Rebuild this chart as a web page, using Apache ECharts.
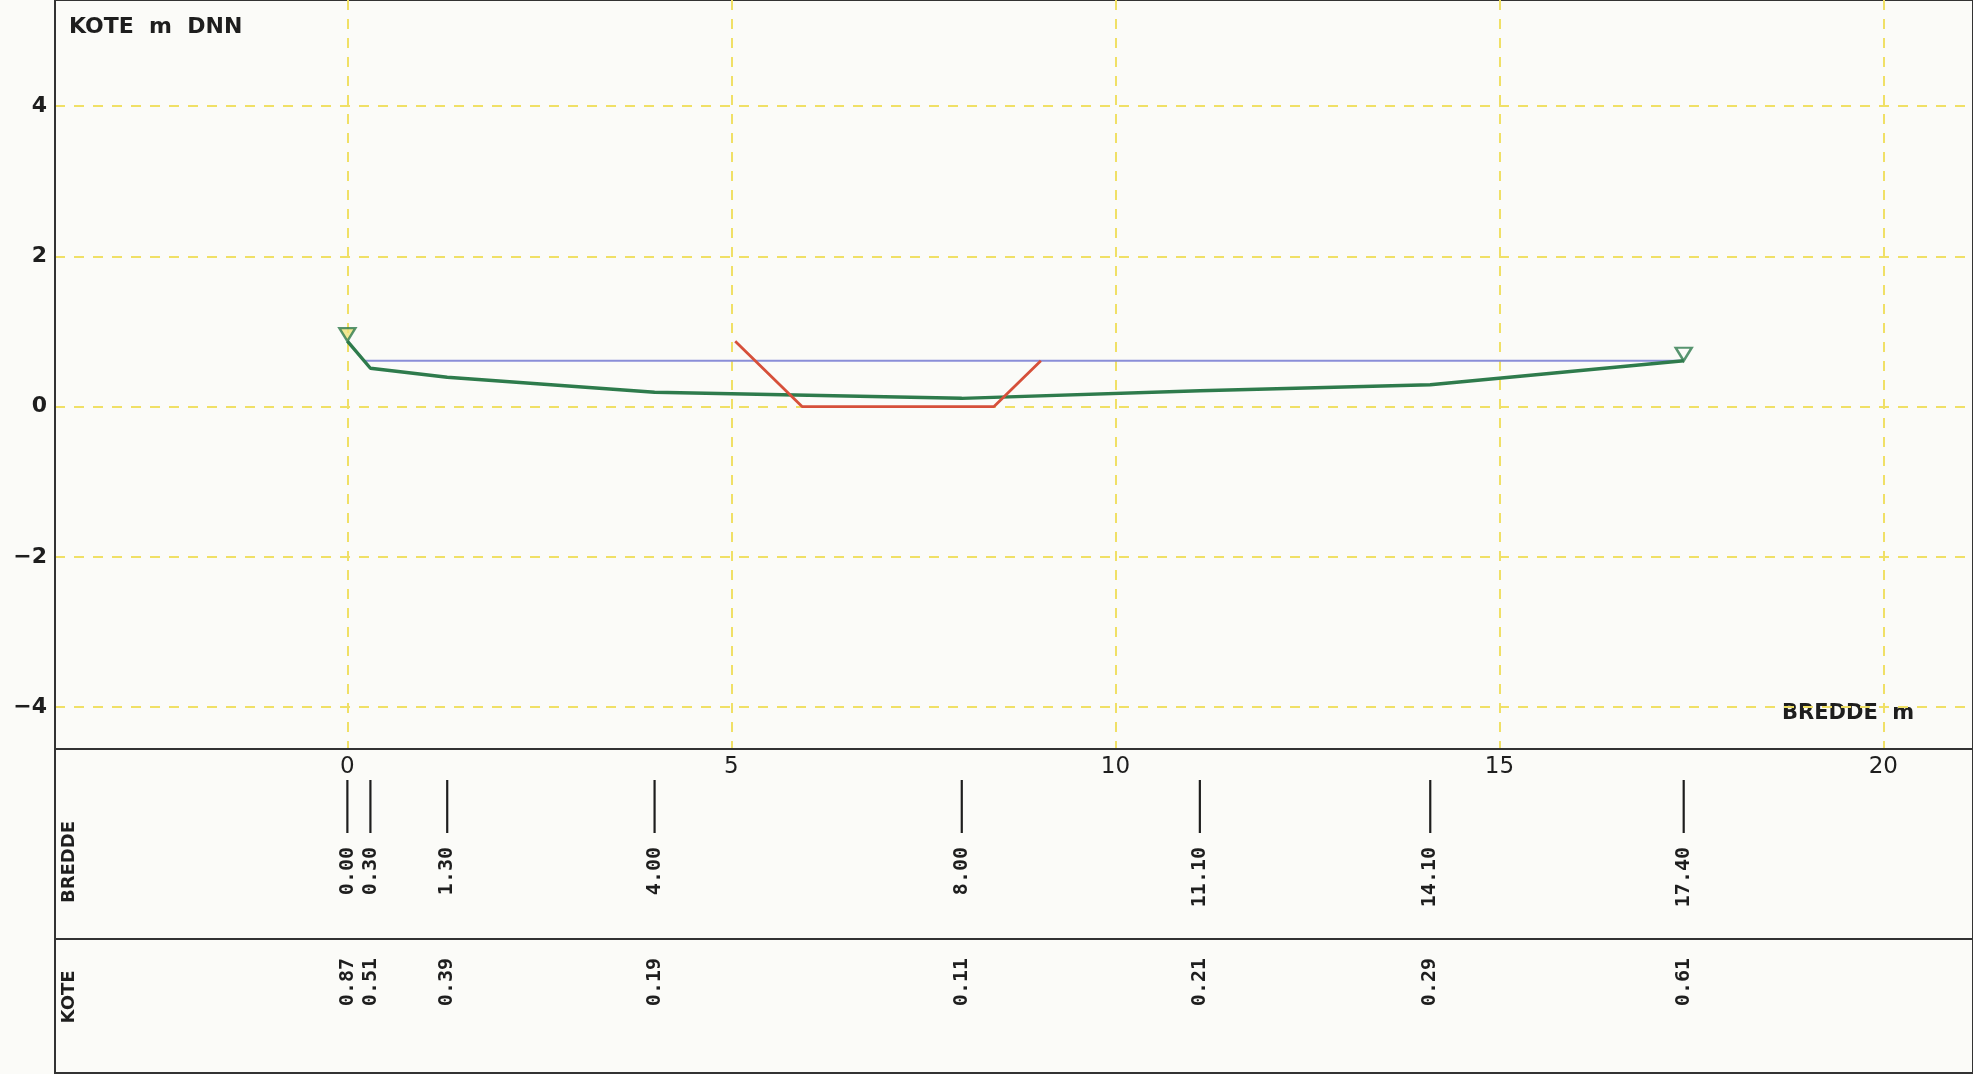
<!DOCTYPE html>
<html>
<head>
<meta charset="utf-8">
<script src="https://cdn.jsdelivr.net/npm/echarts@6/dist/echarts.min.js"></script>
<style>
html,body{margin:0;padding:0;background:#fbfbf8;}
#chart{width:1973px;height:1074px;}
</style>
</head>
<body>
<div id="chart"></div>
<script>
// ---- data ----
const stations   = [0.00, 0.30, 1.30, 4.00, 8.00, 11.10, 14.10, 17.40]; // BREDDE (m)
const elevations = [0.87, 0.51, 0.39, 0.19, 0.11, 0.21, 0.29, 0.61];   // KOTE (m DNN)
const designX = [5.05, 5.92, 8.42, 9.03];   // red design profile
const designY = [0.87, 0.00, 0.00, 0.61];
const waterX = [0.22, 17.40];               // blue water level
const waterY = [0.61, 0.61];
const markerX = [0.00, 17.40];              // water-level triangles
const markerY = [0.87, 0.61];
const xRange = [-3.807, 21.167];
const yRange = [-4.556, 5.41];

const pair = (xs, ys) => xs.map((x, i) => [x, ys[i]]);
const INK = '#1e1e1e';
const GRIDC = '#f0e066';

const chart = echarts.init(document.getElementById('chart'), null, {renderer: 'canvas'});

function rowRenderer(labelOf, withTick, labelTop) {
  return function (params, api) {
    const idx = params.dataIndex;
    const x = api.coord([api.value(0), 0])[0];
    const cs = params.coordSys;
    const children = [];
    if (withTick) {
      children.push({type: 'line', shape: {x1: x, y1: cs.y + 31, x2: x, y2: cs.y + 84},
        style: {stroke: INK, lineWidth: 2.2}});
    }
    children.push({type: 'text', x: x, y: cs.y + labelTop, rotation: Math.PI / 2,
      style: {text: labelOf(idx), x: 0, y: 0, align: 'right', verticalAlign: 'middle',
        fill: INK, fontFamily: 'DejaVu Sans Mono', fontSize: 20, fontWeight: 'bold'}});
    return {type: 'group', children: children};
  };
}

const option = {
  backgroundColor: '#fbfbf8',
  animation: false,
  grid: [
    {left: 55, right: 0, top: 0, height: 749, show: true, borderColor: '#333', borderWidth: 2, backgroundColor: 'transparent'},
    {left: 55, right: 0, top: 749, height: 190, show: true, borderColor: '#333', borderWidth: 2, backgroundColor: 'transparent'},
    {left: 55, right: 0, top: 939, height: 134, show: true, borderColor: '#333', borderWidth: 2, backgroundColor: 'transparent'}
  ],
  xAxis: [
    {type: 'value', gridIndex: 0, min: xRange[0], max: xRange[1], splitNumber: 5,
     axisLine: {show: true, onZero: false, lineStyle: {color: '#333', width: 2}},
     axisTick: {show: false},
     axisLabel: {show: true, showMinLabel: false, showMaxLabel: false, margin: 7, color: INK,
       fontFamily: 'DejaVu Sans', fontSize: 23},
     splitLine: {show: true, showMinLine: false, showMaxLine: false,
       lineStyle: {color: GRIDC, type: [10, 9], width: 2}}},
    {type: 'value', gridIndex: 1, min: xRange[0], max: xRange[1], show: false},
    {type: 'value', gridIndex: 2, min: xRange[0], max: xRange[1], show: false}
  ],
  yAxis: [
    {type: 'value', gridIndex: 0, min: yRange[0], max: yRange[1], splitNumber: 5,
     axisLine: {show: true, onZero: false, lineStyle: {color: '#333', width: 2}},
     axisTick: {show: false},
     axisLabel: {show: true, showMinLabel: false, showMaxLabel: false, margin: 8, color: INK,
       fontFamily: 'DejaVu Sans', fontSize: 22, fontWeight: 'bold',
       formatter: v => (v < 0 ? '\u2212' + Math.abs(v) : String(v))},
     splitLine: {show: true, showMinLine: false, showMaxLine: false,
       lineStyle: {color: GRIDC, type: [10, 9], width: 2}}},
    {type: 'value', gridIndex: 1, min: 0, max: 1, show: false},
    {type: 'value', gridIndex: 2, min: 0, max: 1, show: false}
  ],
  series: [
    {name: 'Vandspejl', type: 'line', xAxisIndex: 0, yAxisIndex: 0, data: pair(waterX, waterY),
     showSymbol: false, lineStyle: {color: '#8a8ed8', width: 2}, z: 2},
    {name: 'Terræn', type: 'line', xAxisIndex: 0, yAxisIndex: 0, data: pair(stations, elevations),
     showSymbol: false, lineStyle: {color: '#2e7b4c', width: 3.4}, z: 3},
    {name: 'Profil', type: 'line', xAxisIndex: 0, yAxisIndex: 0, data: pair(designX, designY),
     showSymbol: false, lineStyle: {color: '#d6503a', width: 2.8}, z: 4},
    {name: 'Markering', type: 'scatter', xAxisIndex: 0, yAxisIndex: 0,
     data: pair(markerX, markerY).map((p, i) => ({value: p,
       itemStyle: {color: i === 0 ? '#efe27a' : 'rgba(251,251,248,0)'}})),
     symbol: 'path://M0,0 L16,0 L8,13 Z', symbolSize: [16, 13], symbolOffset: [0, -6.5],
     itemStyle: {borderColor: '#2e7b4c', borderWidth: 2.4}, z: 5},
    {name: 'BREDDE', type: 'custom', xAxisIndex: 1, yAxisIndex: 1,
     data: pair(stations, elevations),
     renderItem: rowRenderer(i => stations[i].toFixed(2), true, 98), z: 5},
    {name: 'KOTE', type: 'custom', xAxisIndex: 2, yAxisIndex: 2,
     data: pair(stations, elevations),
     renderItem: rowRenderer(i => elevations[i].toFixed(2), false, 19), z: 5}
  ],
  graphic: [
    {type: 'text', left: 69, top: 16, style: {text: 'KOTE  m  DNN', fill: INK,
      fontFamily: 'DejaVu Sans', fontSize: 22, fontWeight: 'bold'}},
    {type: 'text', left: 1782, top: 703, style: {text: 'BREDDE  m', fill: INK,
      fontFamily: 'DejaVu Sans', fontSize: 21, fontWeight: 'bold'}},
    {type: 'text', x: 69, y: 862, rotation: Math.PI / 2, style: {text: 'BREDDE', fill: INK,
      x: 0, y: 0, align: 'center', verticalAlign: 'middle',
      fontFamily: 'DejaVu Sans', fontSize: 18, fontWeight: 'bold'}},
    {type: 'text', x: 69, y: 997, rotation: Math.PI / 2, style: {text: 'KOTE', fill: INK,
      x: 0, y: 0, align: 'center', verticalAlign: 'middle',
      fontFamily: 'DejaVu Sans', fontSize: 18, fontWeight: 'bold'}}
  ]
};
chart.setOption(option);
</script>
</body>
</html>
